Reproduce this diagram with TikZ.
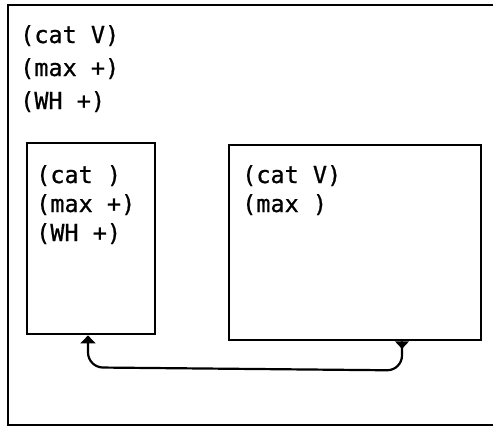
\documentclass[tikz,border=0pt]{standalone}
\usepackage{fontspec}
\setmainfont{DejaVu Sans Mono}[FakeBold=0.8]
\usetikzlibrary{arrows.meta,calc}
\begin{document}
\begin{tikzpicture}[x=1pt,y=-1pt,
  frameline/.style={line width=2.8pt},
  boxnode/.style={draw, line width=2.4pt, inner sep=0pt, anchor=north west},
  lbl/.style={anchor=base west, inner sep=0pt, font=\fontsize{23.5}{28}\selectfont},
  conn/.style={line width=2.2pt, rounded corners=15pt}]
\useasboundingbox (0,0) rectangle (493,429);
% outer frame (open on the right)
\coordinate (otr) at (493,5);
\coordinate (otl) at (8,5);
\coordinate (obl) at (8,425);
\coordinate (obr) at (493,425);
\draw[frameline] (otr) -- (otl) -- (obl) -- (obr);
% outer labels
\node[lbl] (o1) at (20,43) {(cat V)};
\node[lbl] (o2) at (20,76) {(max +)};
\node[lbl] (o3) at (20,109) {(WH +)};
% boxes
\node[boxnode, minimum width=128pt, minimum height=191pt] (lbox) at (26,142) {};
\node[boxnode, minimum width=252pt, minimum height=195pt] (rbox) at (228,144) {};
% left box labels
\node[lbl] (l1) at (36,183) {(cat )};
\node[lbl] (l2) at (36,212) {(max +)};
\node[lbl] (l3) at (36,241) {(WH +)};
% right box labels
\node[lbl] (r1) at (242,183) {(cat V)};
\node[lbl] (r2) at (242,212) {(max )};
% connector
\coordinate (rt) at ($(rbox.south west)+(174,0)$);
\coordinate (lt) at ($(lbox.south west)+(62,0)$);
\draw[conn, -{Triangle[width=15pt,length=8pt]}] (rt) -- ($(rt)+(0,29)$) -- ($(lt)+(0,32)$) -- (lt);
\fill ($(rt)+(-7,0)$) -- ($(rt)+(7,0)$) -- ($(rt)+(0,7.5)$) -- cycle;
\end{tikzpicture}
\end{document}
